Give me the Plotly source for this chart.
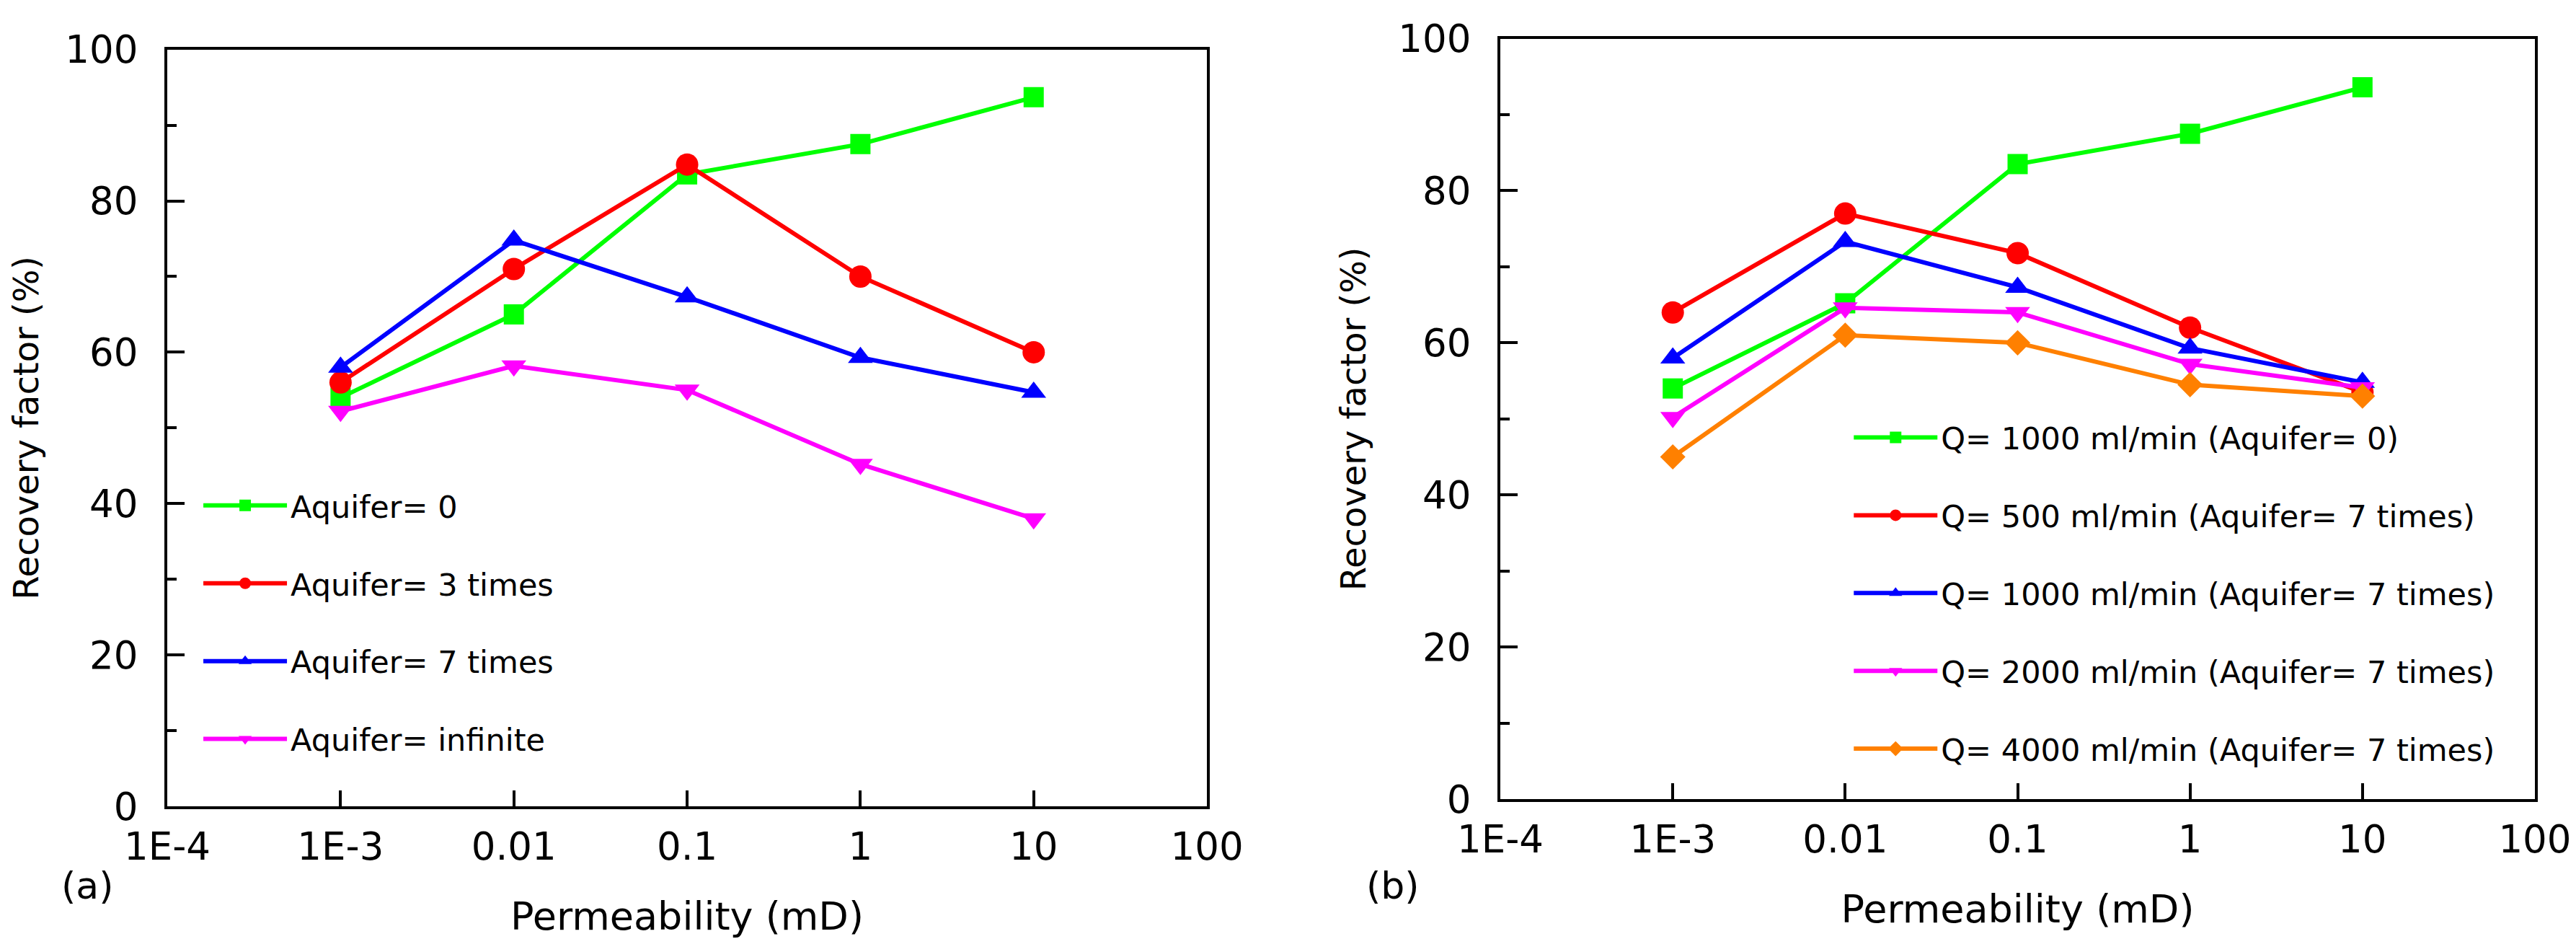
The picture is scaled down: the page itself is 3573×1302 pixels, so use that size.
import plotly.graph_objects as go

# Permeabilitaet (mD) - gleiche Stuetzstellen in beiden Bildern
perm = [1e-3, 1e-2, 1e-1, 1, 10]

# (a) Einfluss der Aquifergroesse
aq_0 = [54.0, 65.0, 83.5, 87.5, 93.7]
aq_3 = [56.0, 71.0, 84.8, 70.0, 60.0]
aq_7 = [58.0, 74.8, 67.3, 59.3, 54.7]
aq_inf = [52.2, 58.2, 55.0, 45.2, 38.0]
names_a = ['Aquifer= 0', 'Aquifer= 3 times', 'Aquifer= 7 times', 'Aquifer= infinite']

# (b) Einfluss der Foerderrate
q1000_aq0 = [54.0, 65.2, 83.5, 87.5, 93.6]
q500 = [64.0, 77.0, 71.8, 62.0, 53.5]
q1000 = [58.0, 73.3, 67.3, 59.3, 54.8]
q2000 = [50.2, 64.6, 64.0, 57.2, 54.1]
q4000 = [45.0, 61.0, 60.0, 54.5, 53.0]
names_b = ['Q= 1000 ml/min (Aquifer= 0)', 'Q= 500 ml/min (Aquifer= 7 times)',
           'Q= 1000 ml/min (Aquifer= 7 times)', 'Q= 2000 ml/min (Aquifer= 7 times)',
           'Q= 4000 ml/min (Aquifer= 7 times)']

tickvals = [1e-4, 1e-3, 1e-2, 1e-1, 1, 10, 100]
ticktext = ['1E-4', '1E-3', '0.01', '0.1', '1', '10', '100']

colors = ['#00ff00', '#ff0000', '#0000ff', '#ff00ff', '#ff8000']
symbols = ['square', 'circle', 'triangle-up', 'triangle-down', 'diamond']
sizes = [28, 31, 30, 30, 27]

FONT = 'DejaVu Sans, Liberation Sans, sans-serif'

fig = go.Figure()

for i, (y, name) in enumerate(zip([aq_0, aq_3, aq_7, aq_inf], names_a)):
    fig.add_trace(go.Scatter(x=perm, y=y, name=name, mode='lines+markers',
                             line=dict(color=colors[i], width=6),
                             marker=dict(symbol=symbols[i], size=sizes[i], color=colors[i]),
                             xaxis='x', yaxis='y', legend='legend', legendgroup='a%d' % i))

for i, (y, name) in enumerate(zip([q1000_aq0, q500, q1000, q2000, q4000], names_b)):
    fig.add_trace(go.Scatter(x=perm, y=y, name=name, mode='lines+markers',
                             line=dict(color=colors[i], width=6),
                             marker=dict(symbol=symbols[i], size=sizes[i], color=colors[i]),
                             xaxis='x2', yaxis='y2', legend='legend2', legendgroup='b%d' % i))

xax = dict(type='log', range=[-4, 2], tickvals=tickvals, ticktext=ticktext,
           ticks='inside', ticklen=22, tickwidth=4, tickcolor='black',
           showline=True, linewidth=4, linecolor='black', mirror=True,
           showgrid=False, zeroline=False, automargin=False, ticklabelstandoff=6,
           tickfont=dict(size=53, color='black'),
           title=dict(text='Permeability (mD)', font=dict(size=54, color='black'), standoff=50))
yax = dict(range=[0, 100], dtick=20, ticks='inside', ticklen=24, tickwidth=4, tickcolor='black',
           minor=dict(dtick=10, ticks='inside', ticklen=13, tickwidth=4, tickcolor='black'),
           showline=True, linewidth=4, linecolor='black', mirror=True,
           showgrid=False, zeroline=False, automargin=False, ticklabelstandoff=26,
           tickfont=dict(size=53, color='black'),
           title=dict(text='Recovery factor (%)', font=dict(size=48, color='black')))

leg = dict(font=dict(size=43, color='black'), bgcolor='rgba(0,0,0,0)', borderwidth=0,
           traceorder='grouped', tracegroupgap=49, itemsizing='trace', itemwidth=116,
           xanchor='left', yanchor='top')

fig.update_layout(
    template='none',
    width=3573, height=1302, margin=dict(l=0, r=0, t=0, b=0),
    paper_bgcolor='white', plot_bgcolor='white',
    font=dict(family=FONT, color='black'),
    xaxis=dict(xax, domain=[0.0627, 0.4663], anchor='y'),
    yaxis=dict(yax, domain=[0.1475, 0.9534], anchor='x'),
    xaxis2=dict(xax, domain=[0.5802, 0.9818], anchor='y2'),
    yaxis2=dict(yax, domain=[0.1551, 0.9650], anchor='x2'),
    legend=dict(leg, x=0.0753, y=0.4943),
    legend2=dict(leg, x=0.7160, y=0.5668),
    annotations=[
        dict(text='(a)', x=0.021, y=0.0385, xref='paper', yref='paper', showarrow=False,
             font=dict(size=52, color='black')),
        dict(text='(b)', x=0.5385, y=0.0385, xref='paper', yref='paper', showarrow=False,
             font=dict(size=52, color='black')),
    ],
)
fig.layout.yaxis.title.standoff = 24
fig.layout.yaxis2.title.standoff = 30

fig.write_html('out.html')
